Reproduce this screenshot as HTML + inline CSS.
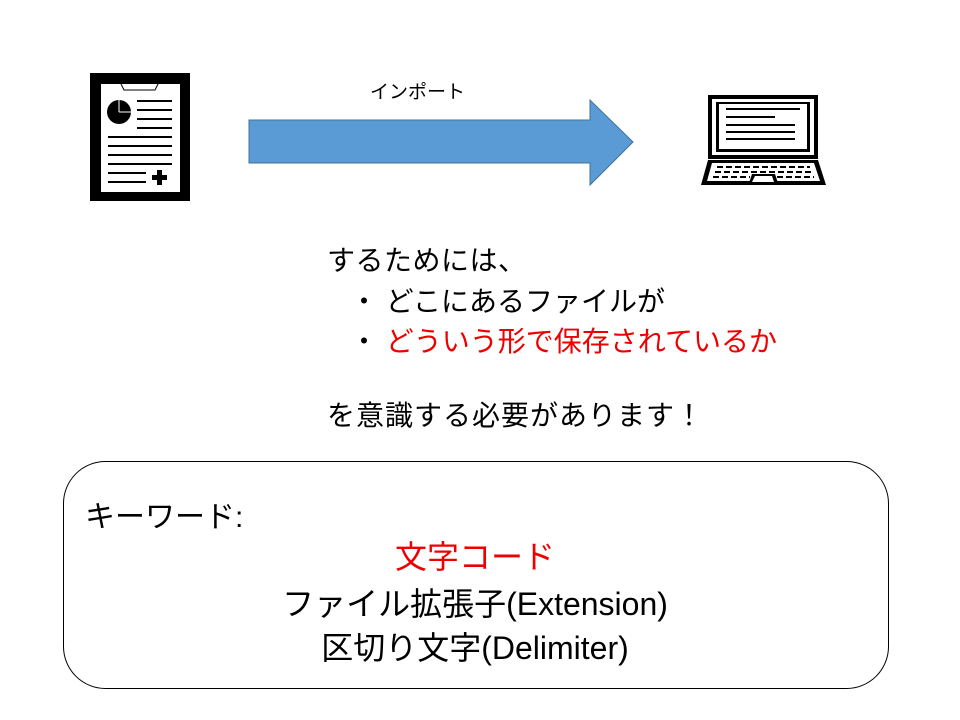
<!DOCTYPE html>
<html><head><meta charset="utf-8"><style>
body{margin:0;width:960px;height:720px;background:#fff;position:relative;overflow:hidden;font-family:"Liberation Sans","Noto Sans CJK JP",sans-serif;}
.t{position:absolute;white-space:nowrap;color:#000;}
</style></head><body>
<svg width="960" height="720" style="position:absolute;left:0;top:0">
<rect x="90" y="73" width="100" height="128" fill="#000"/>
<rect x="101" y="84" width="79" height="108" fill="#fff"/>
<path d="M121 84 L124 90 L155 90 L158 84" fill="#fff" stroke="#000" stroke-width="1"/>
<circle cx="119" cy="112" r="12" fill="#000"/>
<path d="M119 112 L119 100 M119 112 L131 112" stroke="#fff" stroke-width="1"/>
<g stroke="#000" stroke-width="2">
<line x1="137" y1="101" x2="172" y2="101"/><line x1="137" y1="110" x2="172" y2="110"/>
<line x1="137" y1="119" x2="172" y2="119"/><line x1="137" y1="128" x2="172" y2="128"/>
<line x1="108" y1="137" x2="172" y2="137"/><line x1="108" y1="146" x2="172" y2="146"/>
<line x1="108" y1="155" x2="172" y2="155"/><line x1="108" y1="164" x2="172" y2="164"/>
<line x1="108" y1="173" x2="146" y2="173"/><line x1="108" y1="182" x2="146" y2="182"/>
</g>
<path d="M157 170h5v5h5v5h-5v5h-5v-5h-5v-5h5z" fill="#000"/>
<polygon points="249,120 590,120 590,100 633,142 590,185 590,163 249,163" fill="#5b9bd5" stroke="#41719c" stroke-width="1"/>
<rect x="708" y="95" width="110" height="64" fill="#000"/>
<rect x="712" y="99" width="102" height="56" fill="#fff"/>
<rect x="716" y="102" width="94" height="50" fill="#000"/>
<rect x="719" y="104" width="88" height="45" fill="#fff"/>
<g stroke="#000" stroke-width="2">
<line x1="726" y1="109" x2="800" y2="109"/><line x1="726" y1="117" x2="775" y2="117"/>
<line x1="726" y1="125" x2="795" y2="125"/><line x1="726" y1="132" x2="795" y2="132"/>
<line x1="726" y1="139" x2="795" y2="139"/>
</g>
<polygon points="708,160 818,160 826,185 701,185" fill="#000"/>
<polygon points="712,163 814,163 820,181 707,181" fill="#fff"/>
<g stroke="#000" stroke-width="2" stroke-dasharray="6,3">
<line x1="717" y1="167" x2="810" y2="167"/><line x1="715" y1="172" x2="812" y2="172"/><line x1="713" y1="177" x2="750" y2="177"/><line x1="777" y1="177" x2="814" y2="177"/>
</g>
<polygon points="752,174 775,174 778,183 749,183" fill="#000"/>
<polygon points="755,176 772,176 774,182 752,182" fill="#fff"/>
<rect x="63.5" y="461.5" width="825" height="227" rx="42" fill="#fff" stroke="#000" stroke-width="1"/>
</svg>
<div class="t" style="left:370px;top:77px;font-size:19px">インポート</div>
<div class="t" style="left:327px;top:239px;font-size:28px;letter-spacing:0.5px">するためには、</div>
<div class="t" style="left:350px;top:280px;font-size:28px">・ どこにあるファイルが</div>
<div class="t" style="left:350px;top:320px;font-size:28px">・ <span style="color:#e00">どういう形で保存されているか</span></div>
<div class="t" style="left:327px;top:394px;font-size:28px;letter-spacing:1px">を意識する必要があります！</div>
<div class="t" style="left:85px;top:492px;font-size:30px">キーワード:</div>
<div class="t" style="left:0;width:950px;text-align:center;top:532px;font-size:32px;color:#e00">文字コード</div>
<div class="t" style="left:0;width:950px;text-align:center;top:579px;font-size:32px">ファイル拡張子(Extension)</div>
<div class="t" style="left:0;width:950px;text-align:center;top:623px;font-size:32px">区切り文字(Delimiter)</div>
</body></html>
